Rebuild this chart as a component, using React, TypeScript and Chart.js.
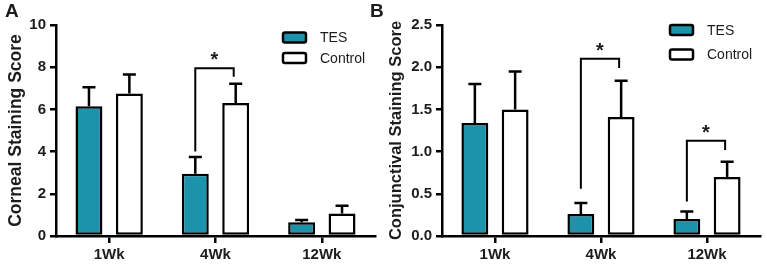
import React, { useEffect, useRef } from "react";
import { Chart, registerables } from "chart.js";

Chart.register(...registerables);

const categories = ["1Wk", "4Wk", "12Wk"];
const seriesNames = ["TES", "Control"];

// Panel A – corneal staining
const corneaTicks = [0, 2, 4, 6, 8, 10];
const corneaTES = [6.15, 2.95, 0.65];
const corneaTESErr = [0.9, 0.8, 0.11];
const corneaCtrl = [6.75, 6.3, 1.07];
const corneaCtrlErr = [0.9, 0.92, 0.36];
const corneaSigIdx = [1];
const corneaSigTop = [7.95];
const corneaSigLeft = [4.0];
const corneaSigRight = [7.55];

// Panel B – conjunctival staining
const conjTicks = [0, 0.5, 1.0, 1.5, 2.0, 2.5];
const conjTES = [1.34, 0.26, 0.2];
const conjTESErr = [0.46, 0.13, 0.09];
const conjCtrl = [1.5, 1.41, 0.7];
const conjCtrlErr = [0.45, 0.43, 0.18];
const conjSigIdx = [1, 2];
const conjSigTop = [2.1, 1.13];
const conjSigLeft = [0.56, 0.41];
const conjSigRight = [1.99, 1.02];

const FONT = "'Liberation Sans', Arial, Helvetica, sans-serif";
const TEAL = "#1a93ab";
const INK = "#1c1c1c";

type PanelProps = {
  width: number;
  tes: number[];
  tesErr: number[];
  ctrl: number[];
  ctrlErr: number[];
  ticks: number[];
  decimals: number;
  title: string;
  titleSize: number;
  titlePad: number;
  sigIdx: number[];
  sigTop: number[];
  sigLeft: number[];
  sigRight: number[];
  axisWidth: number;
  padRight: number;
  legendX: number;
  legendY: number[];
};

function Panel(p: PanelProps) {
  const ref = useRef<HTMLCanvasElement | null>(null);
  useEffect(() => {
    if (!ref.current) return;
    const errs = [p.tesErr, p.ctrlErr];
    const overlay = {
      id: "overlay",
      afterDatasetsDraw(chart: any) {
        const ctx = chart.ctx;
        const y = chart.scales.y;
        ctx.save();
        ctx.strokeStyle = "#000";
        ctx.lineWidth = 2.5;
        ctx.lineCap = "butt";
        // error bars (upper whisker only)
        chart.data.datasets.forEach((ds: any, di: number) => {
          const meta = chart.getDatasetMeta(di);
          meta.data.forEach((el: any, i: number) => {
            const v = ds.data[i];
            const top = y.getPixelForValue(v + errs[di][i]);
            const base = y.getPixelForValue(v);
            ctx.beginPath();
            ctx.moveTo(el.x, base);
            ctx.lineTo(el.x, top);
            ctx.moveTo(el.x - 6.5, top);
            ctx.lineTo(el.x + 6.5, top);
            ctx.stroke();
          });
        });
        // significance brackets
        const m0 = chart.getDatasetMeta(0);
        const m1 = chart.getDatasetMeta(1);
        ctx.lineWidth = 2;
        p.sigIdx.forEach((idx, k) => {
          const x1 = m0.data[idx].x;
          const x2 = m1.data[idx].x - 2;
          const yt = y.getPixelForValue(p.sigTop[k]);
          const yl = y.getPixelForValue(p.sigLeft[k]);
          const yr = y.getPixelForValue(p.sigRight[k]);
          ctx.beginPath();
          ctx.moveTo(x1, yl);
          ctx.lineTo(x1, yt);
          ctx.lineTo(x2, yt);
          ctx.lineTo(x2, yr);
          ctx.stroke();
          ctx.fillStyle = INK;
          ctx.font = `bold 20px ${FONT}`;
          ctx.textAlign = "center";
          ctx.textBaseline = "alphabetic";
          ctx.fillText("*", (x1 + x2) / 2, yt - 2);
        });
        // legend
        const fills = [TEAL, "#fff"];
        seriesNames.forEach((name, i) => {
          const cy = p.legendY[i];
          ctx.fillStyle = fills[i];
          ctx.lineWidth = 2.5;
          ctx.strokeStyle = "#000";
          ctx.beginPath();
          ctx.roundRect(p.legendX, cy - 5, 23, 10, 2);
          ctx.fill();
          ctx.stroke();
          ctx.fillStyle = INK;
          ctx.font = `14px ${FONT}`;
          ctx.textAlign = "left";
          ctx.textBaseline = "middle";
          ctx.fillText(name, p.legendX + 37, cy + 1);
        });
        ctx.restore();
      },
    };
    const chart = new Chart(ref.current, {
      type: "bar",
      data: {
        labels: categories,
        datasets: [
          {
            label: seriesNames[0],
            data: p.tes,
            backgroundColor: TEAL,
            borderColor: "#000",
            borderWidth: 2.5,
            borderSkipped: false,
            barPercentage: 0.667,
            categoryPercentage: 0.76,
          },
          {
            label: seriesNames[1],
            data: p.ctrl,
            backgroundColor: "#fff",
            borderColor: "#000",
            borderWidth: 2.5,
            borderSkipped: false,
            barPercentage: 0.667,
            categoryPercentage: 0.76,
          },
        ],
      },
      options: {
        responsive: false,
        animation: false,
        devicePixelRatio: 1,
        layout: { padding: { top: 25, right: p.padRight, bottom: 0, left: 0 } },
        plugins: { legend: { display: false }, tooltip: { enabled: false } },
        scales: {
          x: {
            grid: {
              display: true,
              drawOnChartArea: false,
              offset: false,
              color: "#000",
              lineWidth: 2.5,
              tickLength: 7,
            },
            border: { color: "#000", width: 2.5 },
            ticks: {
              color: INK,
              font: { family: FONT, size: 15, weight: "bold" },
              padding: 3,
            },
            afterFit: (s: any) => {
              s.height = 30;
            },
          },
          y: {
            min: p.ticks[0],
            max: p.ticks[p.ticks.length - 1],
            ticks: {
              stepSize: p.ticks[1] - p.ticks[0],
              color: INK,
              font: { family: FONT, size: 15, weight: "bold" },
              padding: 4,
              callback: (v: any) => Number(v).toFixed(p.decimals),
            },
            grid: {
              drawOnChartArea: false,
              color: "#000",
              lineWidth: 2.5,
              tickLength: 6,
            },
            border: { color: "#000", width: 2.5 },
            title: {
              display: true,
              text: p.title,
              color: INK,
              font: { family: FONT, size: p.titleSize, weight: "bold" },
              padding: { top: p.titlePad, bottom: 0 },
            },
            afterFit: (s: any) => {
              s.width = p.axisWidth;
            },
          },
        },
      },
      plugins: [overlay],
    } as any);
    return () => chart.destroy();
  }, []);
  return <canvas ref={ref} width={p.width} height={266} style={{ display: "block", width: p.width, height: 266 }} />;
}

export default function App() {
  useEffect(() => {
    document.body.style.margin = "0";
  }, []);
  const letter: React.CSSProperties = {
    position: "absolute",
    top: 0,
    font: `bold 19px ${FONT}`,
    color: INK,
  };
  return (
    <div style={{ position: "absolute", left: 0, top: 0, width: 767, height: 266, background: "#fff" }}>
      <div style={{ position: "absolute", left: 0, top: 0 }}>
        <Panel
          width={380}
          tes={corneaTES}
          tesErr={corneaTESErr}
          ctrl={corneaCtrl}
          ctrlErr={corneaCtrlErr}
          ticks={corneaTicks}
          decimals={0}
          title="Corneal Staining Score"
          titleSize={17.5}
          titlePad={6}
          sigIdx={corneaSigIdx}
          sigTop={corneaSigTop}
          sigLeft={corneaSigLeft}
          sigRight={corneaSigRight}
          axisWidth={56}
          padRight={5}
          legendX={283}
          legendY={[37.5, 58]}
        />
      </div>
      <div style={{ position: "absolute", left: 380, top: 0 }}>
        <Panel
          width={387}
          tes={conjTES}
          tesErr={conjTESErr}
          ctrl={conjCtrl}
          ctrlErr={conjCtrlErr}
          ticks={conjTicks}
          decimals={1}
          title="Conjunctival Staining Score"
          titleSize={16.5}
          titlePad={7}
          sigIdx={conjSigIdx}
          sigTop={conjSigTop}
          sigLeft={conjSigLeft}
          sigRight={conjSigRight}
          axisWidth={62}
          padRight={7}
          legendX={290}
          legendY={[30, 54.5]}
        />
      </div>
      <div style={{ ...letter, left: 5 }}>A</div>
      <div style={{ ...letter, left: 370 }}>B</div>
    </div>
  );
}
